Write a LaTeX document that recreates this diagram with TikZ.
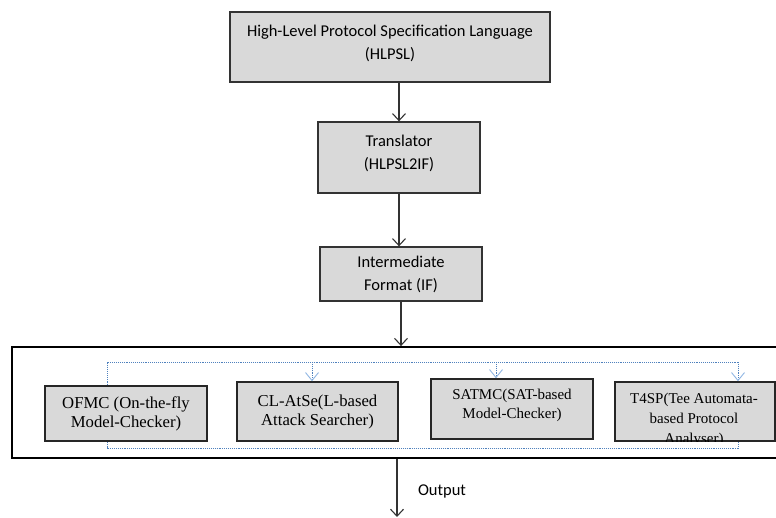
\documentclass[tikz,border=0pt]{standalone}
\usepackage{fontspec}
\setmainfont{Liberation Serif}
\newfontfamily\calibri{Carlito}
\usetikzlibrary{arrows.meta}
\definecolor{boxgray}{HTML}{D9D9D9}
\definecolor{busblue}{HTML}{4F81BD}
\definecolor{tipblue}{HTML}{8DB4E2}
\newcommand\lowpad{\rule[-10pt]{0pt}{10pt}}
\tikzset{
  stage/.style={draw=black!80, line width=1.3pt, fill=boxgray, align=center,
    inner sep=0pt, font=\calibri\fontsize{16.5}{23}\selectfont},
  checker/.style={draw=black!85, line width=1.5pt, fill=boxgray, align=center,
    inner sep=0pt, font=\fontsize{16.7}{19}\selectfont},
  small checker/.style={checker, font=\fontsize{15}{19}\selectfont},
  flow/.style={draw=black!80, line width=1.1pt, -{Straight Barb[length=7pt,width=13pt]}},
  bus/.style={draw=busblue, densely dotted, line width=0.9pt},
  drop/.style={bus, -{Straight Barb[length=8pt,width=13pt,color=tipblue]}},
}
\begin{document}
\begin{tikzpicture}[x=1pt,y=-1pt]
\clip (0,0) rectangle (776,518);
% translation chain
\node[stage, minimum width=320, minimum height=70] (hlpsl) at (390,47)
  {High-Level Protocol Specification Language\\(HLPSL)\lowpad};
\node[stage, minimum width=162, minimum height=71] (trans) at (399,157.5)
  {Translator\\(HLPSL2IF)\lowpad};
\node[stage, minimum width=162, minimum height=54] (ifmt) at (401,274)
  {Intermediate\\Format (IF)};
\node[draw, line width=1.8pt, inner sep=0pt, minimum width=770, minimum height=111]
  (analysers) at (397,402.5) {};
% back-ends
\foreach \n/\st/\cx/\cy/\w/\h/\txt in {
  ofmc/checker/126/413.5/162/55/{OFMC (On-the-fly\\Model-Checker)},
  clatse/checker/317.5/411.5/161/59/{CL-AtSe(L-based\\Attack Searcher)},
  satmc/small checker/512/409/162/60/{SATMC(SAT-based\\Model-Checker)\lowpad}}{
  \node[\st, minimum width=\w, minimum height=\h] (\n) at (\cx,\cy) {\txt};
}
\node[checker, minimum width=160, minimum height=59] (t4sp) at (695,411.5) {};
\begin{scope}
  \clip (t4sp.south west) rectangle (t4sp.north east);
  \node[align=center, inner sep=0pt, anchor=north, font=\fontsize{15}{20}\selectfont]
    (t4sptxt) at (694,393) {T4SP(Tee Automata-\\based Protocol\\Analyser)};
\end{scope}
% blue bus
\coordinate (bustl) at (107,362);
\coordinate (bustr) at (738,362);
\coordinate (busbl) at (107,448);
\coordinate (busbr) at (738,448);
\draw[bus] (ofmc.north -| bustl) -- (bustl) -- (bustr);
\foreach \x/\n in {312/clatse,496/satmc,738/t4sp}{
  \draw[drop] (\x,362) -- (\n.north -| \x,0);
}
\draw[bus] (ofmc.south -| busbl) -- (busbl) -- (busbr) -- (t4sp.south -| busbr);
% arrows
\draw[flow] (hlpsl.south -| trans.north) -- (trans.north);
\draw[flow] (trans.south) -- (trans.south |- ifmt.north);
\draw[flow] (ifmt.south) -- (ifmt.south |- analysers.north);
\coordinate (out) at (397,517);
\draw[flow] (analysers.south -| out) -- (out);
\node[anchor=base, font=\calibri\fontsize{16.5}{20}\selectfont] (outlbl) at (442,495) {Output};
\end{tikzpicture}
\end{document}
